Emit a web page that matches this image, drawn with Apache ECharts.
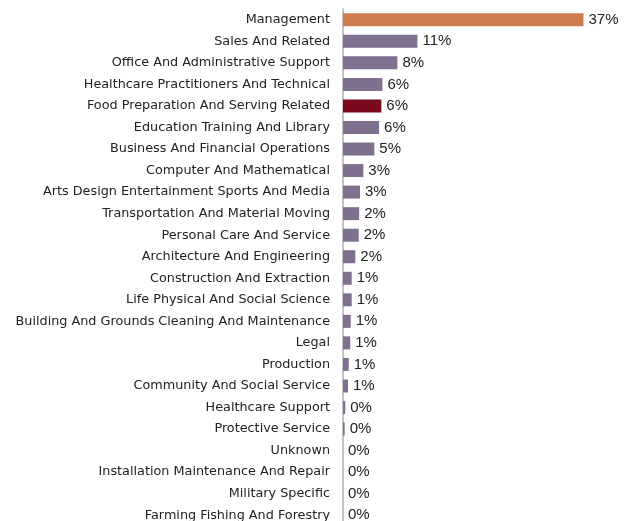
<!DOCTYPE html>
<html>
<head>
<meta charset="utf-8">
<script src="https://cdn.jsdelivr.net/npm/echarts@6/dist/echarts.min.js"></script>
<style>
  html, body { margin: 0; padding: 0; background: #fff; }
  #chart { width: 630px; height: 521px; }
</style>
</head>
<body>
<div id="chart"></div>
<script>
// occupation groups, top to bottom
const categories = [
  'Management', 'Sales And Related', 'Office And Administrative Support',
  'Healthcare Practitioners And Technical', 'Food Preparation And Serving Related',
  'Education Training And Library', 'Business And Financial Operations',
  'Computer And Mathematical', 'Arts Design Entertainment Sports And Media',
  'Transportation And Material Moving', 'Personal Care And Service',
  'Architecture And Engineering', 'Construction And Extraction',
  'Life Physical And Social Science', 'Building And Grounds Cleaning And Maintenance',
  'Legal', 'Production', 'Community And Social Service', 'Healthcare Support',
  'Protective Service', 'Unknown', 'Installation Maintenance And Repair',
  'Military Specific', 'Farming Fishing And Forestry'
];
// share in percent
const shares = [
  37, 11.45, 8.37, 6.06, 5.9, 5.55, 4.82, 3.13, 2.62, 2.49, 2.42, 1.9,
  1.34, 1.34, 1.19, 1.12, 0.88, 0.77, 0.35, 0.26, 0, 0, 0, 0
];
const highlight = { 'Management': '#d07a50', 'Food Preparation And Serving Related': '#7b0b1c' };
const baseColor = '#80708f';

const chart = echarts.init(document.getElementById('chart'));

chart.setOption({
  animation: false,
  grid: { left: 343, top: 9, width: 260, height: 517, outerBoundsMode: 'none' },
  xAxis: {
    type: 'value',
    min: 0,
    max: 40,
    show: false
  },
  yAxis: {
    type: 'category',
    data: categories,
    inverse: true,
    axisLine: { show: true, lineStyle: { color: '#c4c4c4', width: 2 } },
    axisTick: { show: false },
    axisLabel: {
      margin: 13,
      color: '#222',
      fontFamily: 'DejaVu Sans',
      fontSize: 12.8
    }
  },
  series: [{
    type: 'bar',
    barWidth: 13,
    data: shares.map((v, i) => ({
      value: v,
      itemStyle: { color: highlight[categories[i]] || baseColor }
    })),
    label: {
      show: true,
      position: 'right',
      distance: 5,
      color: '#222',
      fontFamily: 'Liberation Sans',
      fontSize: 15,
      formatter: p => Math.round(p.value) + '%'
    }
  }]
});
</script>
</body>
</html>
